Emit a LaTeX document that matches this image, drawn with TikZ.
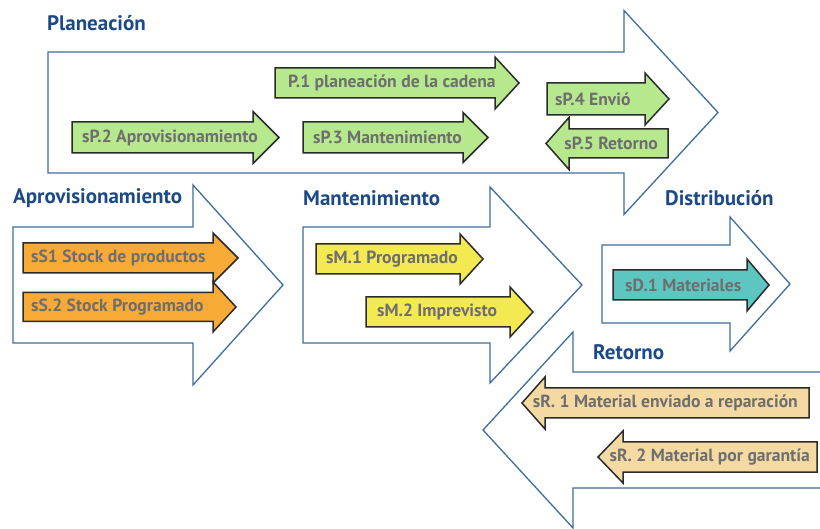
\documentclass[tikz,border=0pt]{standalone}
\usepackage{fontspec}
\setmainfont{PT Sans}
\definecolor{bigline}{HTML}{3E6E9C}
\definecolor{smallline}{HTML}{2B2B2B}
\definecolor{titleblue}{HTML}{1C4A87}
\definecolor{lbltext}{HTML}{6E6E6E}
\definecolor{fgreen}{HTML}{B6E88E}
\definecolor{forange}{HTML}{F7AA35}
\definecolor{fyellow}{HTML}{F3EA52}
\definecolor{fteal}{HTML}{5EC6C0}
\definecolor{ftan}{HTML}{F4DAA2}
% arrow outline: style, start x, mid y, shaft half height, head base x, head half height, tip x
\newcommand\blockarrow[7]{%
  \draw[#1] (#2,#3-#4) -- (#5,#3-#4) -- (#5,#3-#6) -- (#7,#3)
    -- (#5,#3+#6) -- (#5,#3+#4) -- (#2,#3+#4) -- cycle;}
\begin{document}
\begin{tikzpicture}[x=1pt,y=-1pt,
  big/.style={draw=bigline, fill=white, line width=1.3pt, line join=miter},
  small/.style={draw=smallline, line width=1.5pt, line join=miter},
  title/.style={text=titleblue, font=\fontsize{21}{24}\selectfont\bfseries, inner sep=0pt},
  lbl/.style={text=lbltext, font=\fontsize{17.6}{20}\selectfont\bfseries, inner sep=0pt}]
\useasboundingbox (0,0) rectangle (820,529);
\clip (0,0) rectangle (820,529);

% stage arrows
\blockarrow{big}{48}{112.5}{60.5}{624}{102}{718}
\blockarrow{big}{13}{285}{58}{193}{100}{283}
\blockarrow{big}{303}{285}{58}{490}{98}{582}
\blockarrow{big}{602}{284}{39}{730}{67}{790}
\blockarrow{big}{840}{430}{58}{573}{98}{483}

% stage titles
\node[title, anchor=west] (tplan) at (47,23) {Planeación};
\node[title, anchor=west] (tapro) at (13,198) {Aprovisionamiento};
\node[title, anchor=west] (tmant) at (303,198) {Mantenimiento};
\node[title, anchor=west] (tdist) at (665,198) {Distribución};
\node[title, anchor=west] (tret) at (593,352) {Retorno};

% planning sub-processes
\blockarrow{small, fill=fgreen}{275}{83}{15}{495}{26}{519}
\blockarrow{small, fill=fgreen}{72}{137.5}{15.5}{253}{26}{279}
\blockarrow{small, fill=fgreen}{303}{137.5}{15.5}{463}{25}{488}
\blockarrow{small, fill=fgreen}{547}{99}{16}{645}{26}{669}
\blockarrow{small, fill=fgreen}{668}{143.5}{14.5}{569}{26}{546}
\node[lbl, anchor=west] (p1) at (288,83) {P.1 planeación de la cadena};
\node[lbl, anchor=west] (p2) at (82,137.5) {sP.2 Aprovisionamiento};
\node[lbl, anchor=west] (p3) at (313,137.5) {sP.3 Mantenimiento};
\node[lbl, anchor=west] (p4) at (555,99) {sP.4 Envió};
\node[lbl, anchor=east] (p5) at (658,143.5) {sP.5 Retorno};

% stock sub-processes
\blockarrow{small, fill=forange}{23}{307}{14.5}{213}{25}{236}
\blockarrow{small, fill=forange}{23}{258}{15}{213}{25}{238}
\node[lbl, anchor=west] (s1) at (31,258) {sS1 Stock de productos};
\node[lbl, anchor=west] (s2) at (31,307) {sS.2 Stock Programado};

% maintenance sub-processes
\blockarrow{small, fill=fyellow}{316}{259}{15}{460}{25}{483}
\blockarrow{small, fill=fyellow}{366}{312}{15}{510}{25}{533}
\node[lbl, anchor=west] (m1) at (326,259) {sM.1 Programado};
\node[lbl, anchor=west] (m2) at (377,312) {sM.2 Imprevisto};

% distribution sub-process
\blockarrow{small, fill=fteal}{613}{285}{15}{747}{26}{769}
\node[lbl, anchor=west] (d1) at (625,285) {sD.1 Materiales};

% return sub-processes
\blockarrow{small, fill=ftan}{809}{403}{15}{545}{26}{522}
\blockarrow{small, fill=ftan}{817}{457}{15}{623}{26}{598}
\node[lbl, anchor=east] (r1) at (798,403) {sR. 1 Material enviado a reparación};
\node[lbl, anchor=east] (r2) at (810,457) {sR. 2 Material por garantía};
\end{tikzpicture}
\end{document}
